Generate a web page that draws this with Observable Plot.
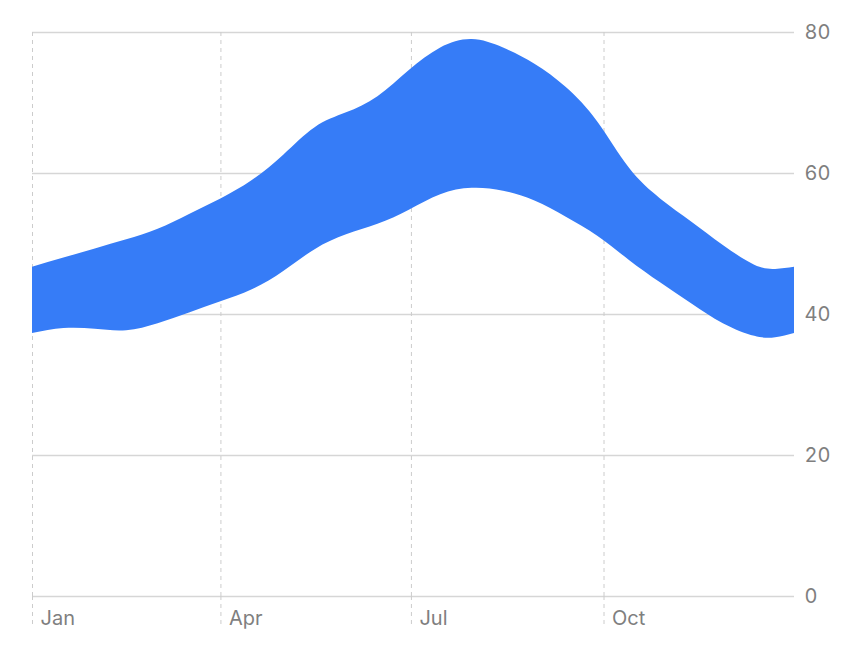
<!DOCTYPE html>
<html>
<head>
<meta charset="utf-8">
<script src="https://cdn.jsdelivr.net/npm/d3@7"></script>
<script src="https://cdn.jsdelivr.net/npm/@observablehq/plot@0.6"></script>
<style>
  html, body { margin: 0; padding: 0; background: #fff; }
  #chart svg { display: block; }
</style>
</head>
<body>
<div id="chart"></div>
<script>
// Sample dates (day-of-year readings) and the band's upper/lower values
const dates = ["2023-01-01","2023-01-16","2023-01-31","2023-02-15","2023-03-02","2023-03-17",
  "2023-04-01","2023-04-16","2023-05-01","2023-05-16","2023-05-31","2023-06-15",
  "2023-06-30","2023-07-15","2023-07-30","2023-08-14","2023-08-29","2023-09-13",
  "2023-09-28","2023-10-13","2023-10-28","2023-11-12","2023-11-27","2023-12-12",
  "2023-12-22","2023-12-31"];
const highs = [46.7,48.0,49.3,50.6,52.1,54.2,56.4,59.0,62.6,66.5,68.6,70.9,74.6,77.8,79.0,77.8,75.5,72.2,67.3,60.8,56.4,53.1,49.8,47.0,46.4,46.7];
const lows  = [37.3,38.0,37.9,37.7,38.7,40.2,41.8,43.5,46.1,49.2,51.3,52.8,54.8,57.0,57.9,57.5,56.1,53.8,51.1,47.7,44.5,41.5,38.7,36.9,36.7,37.3];
const yTicks = [0, 20, 40, 60, 80];
const monthTicks = ["2023-01-01","2023-04-01","2023-07-01","2023-10-01"];

const parse = d3.utcParse("%Y-%m-%d");
const data = dates.map((d, i) => ({date: parse(d), high: highs[i], low: lows[i]}));
const xTicks = monthTicks.map(parse);

const chart = Plot.plot({
  width: 864,
  height: 664,
  marginTop: 32,
  marginBottom: 68,
  marginLeft: 32,
  marginRight: 70,
  style: {fontFamily: "Inter, 'Liberation Sans', sans-serif", fontSize: "20px", color: "#808080", background: "#fff"},
  x: {type: "utc", domain: [parse("2023-01-01"), parse("2023-12-31")]},
  y: {domain: [0, 80]},
  marks: [
    Plot.gridY(yTicks, {stroke: "#d6d6d6", strokeOpacity: 1, strokeWidth: 1.3}),
    Plot.gridX(xTicks, {stroke: "#cccccc", strokeOpacity: 1, strokeDasharray: "4,4"}),
    Plot.areaY(data, {x: "date", y1: "low", y2: "high", fill: "#367CF7", curve: "natural"}),
    Plot.axisX(xTicks, {tickSize: 32, stroke: "#cccccc", strokeDasharray: "4,4", text: null, label: null}),
    Plot.axisX(xTicks, {tickSize: 0, tickPadding: 14, textAnchor: "start", dx: 8, tickFormat: d3.utcFormat("%b"), fill: "#7f7f7f", fontSize: 20, label: null}),
    Plot.axisY(yTicks, {anchor: "right", tickSize: 0, tickPadding: 10, textAnchor: "start", fill: "#7f7f7f", fontSize: 20, label: null})
  ]
});
document.getElementById("chart").append(chart);
</script>
</body>
</html>
